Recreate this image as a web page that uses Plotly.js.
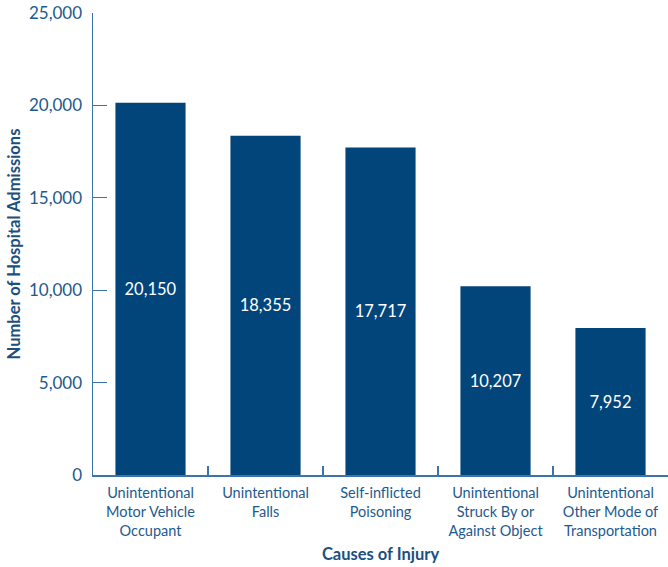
<!DOCTYPE html>
<html>
<head>
<meta charset="utf-8">
<script src="https://cdn.plot.ly/plotly-3.0.1.min.js"></script>
<style>html,body{margin:0;padding:0;background:#fff;}</style>
</head>
<body>
<div id="chart" style="width:668px;height:567px;"></div>
<script>
const categories = [
  "Unintentional<br>Motor Vehicle<br>Occupant",
  "Unintentional<br>Falls",
  "Self-inflicted<br>Poisoning",
  "Unintentional<br>Struck By or<br>Against Object",
  "Unintentional<br>Other Mode of<br>Transportation"
];
const admissions = [20150, 18355, 17717, 10207, 7952];
const yTickVals = [0, 5000, 10000, 15000, 20000, 25000];
const yTickText = ["0", "5,000", "10,000", "15,000", "20,000", "25,000"];

const textColor = "#1d5a8e";
const axisColor = "#3a74a8";
const barColor = "#02457a";
const fontFam = "Lato, 'Open Sans', sans-serif";

const trace = {
  type: "bar",
  x: categories,
  y: admissions,
  marker: {color: barColor},
  text: admissions.map(v => v.toLocaleString("en-US")),
  textposition: "inside",
  insidetextanchor: "middle",
  textfont: {color: "#ffffff", size: 16.5, family: fontFam},
  hoverinfo: "none"
};

const layout = {
  width: 668, height: 567,
  margin: {l: 93, r: 0, t: 13, b: 92},
  paper_bgcolor: "#fff", plot_bgcolor: "#fff",
  showlegend: false,
  bargap: 0.39,
  font: {family: fontFam, color: textColor},
  xaxis: {
    type: "category",
    range: [-0.5, 4.5],
    tickson: "boundaries",
    ticks: "inside",
    ticklen: 9,
    tickcolor: axisColor,
    tickwidth: 1.3,
    showline: true,
    linecolor: axisColor,
    linewidth: 1.5,
    showgrid: false,
    ticklabelstandoff: 4,
    tickfont: {size: 14.5, color: textColor, family: fontFam},
    title: {text: "<b>Causes of Injury</b>", font: {size: 16.5, color: "#1a4f80", family: fontFam}, standoff: 11}
  },
  yaxis: {
    range: [0, 25000],
    tickvals: yTickVals,
    ticktext: yTickText,
    ticks: "inside",
    ticklen: 14,
    tickcolor: axisColor,
    tickwidth: 1.3,
    showline: true,
    linecolor: axisColor,
    linewidth: 1.5,
    showgrid: false,
    zeroline: false,
    ticklabelstandoff: 6,
    tickfont: {size: 17, color: textColor, family: fontFam},
    title: {text: "<b>Number of Hospital Admissions</b>", font: {size: 16.5, color: "#1a4f80", family: fontFam}, standoff: 4}
  }
};

Plotly.newPlot("chart", [trace], layout, {displayModeBar: false, staticPlot: true});
</script>
</body>
</html>
